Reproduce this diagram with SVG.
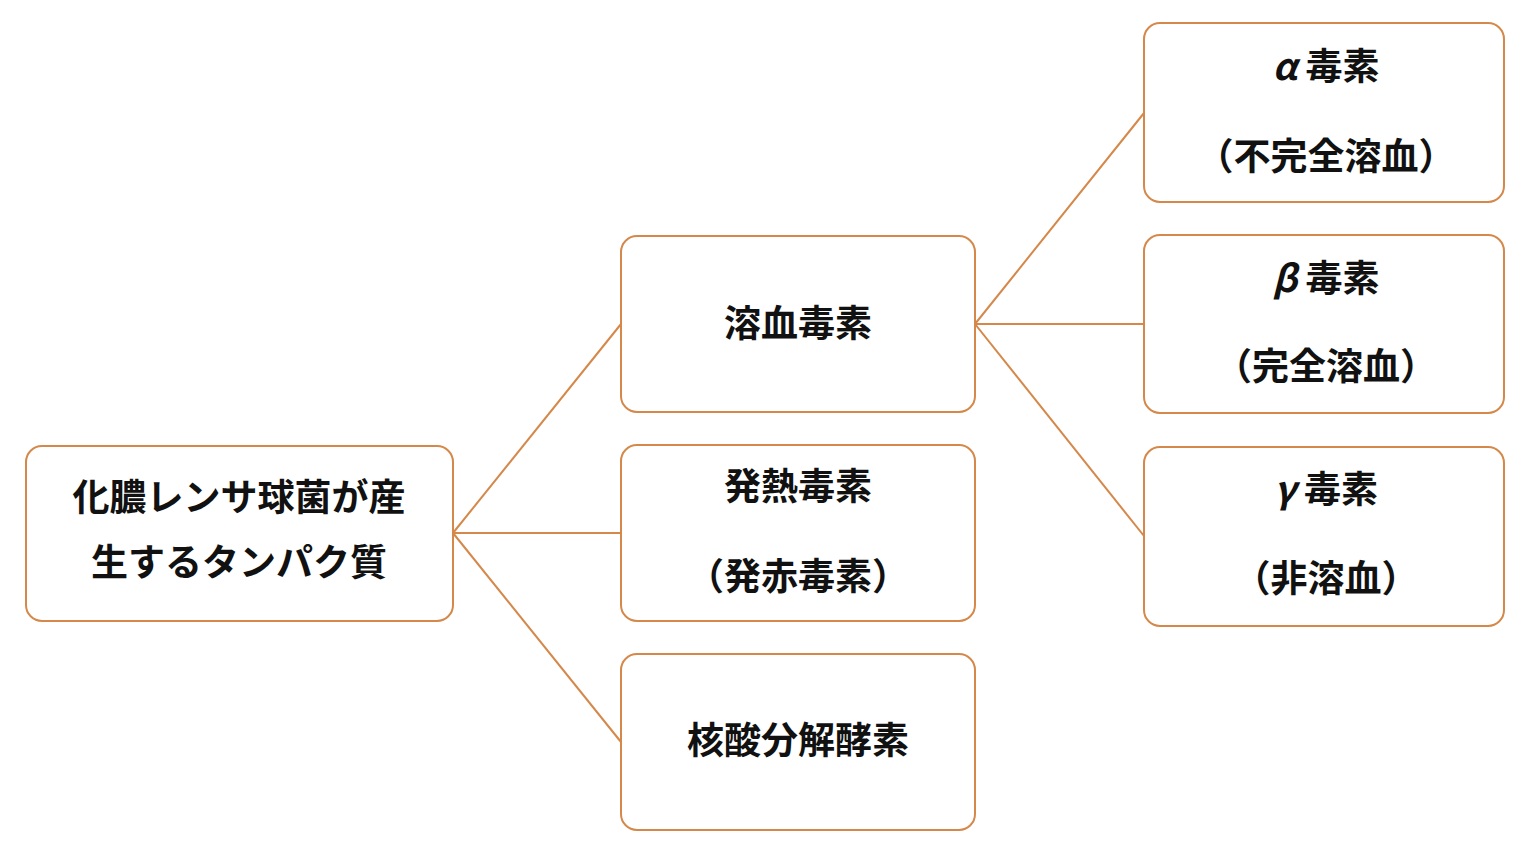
<svg xmlns="http://www.w3.org/2000/svg" width="1536" height="845" viewBox="0 0 1536 845">
<style>
.b{fill:#fff;stroke:#D4884A;stroke-width:2}
.c line{stroke:#D4884A;stroke-width:2}
text{font-family:"Noto Sans CJK JP","Noto Sans",sans-serif;font-weight:bold;font-size:37px;fill:#111;text-anchor:middle}
</style>
<rect width="1536" height="845" fill="#fff"/>
<g class="c">
<line x1="453" y1="533" x2="621" y2="324"/>
<line x1="453" y1="533" x2="621" y2="533"/>
<line x1="453" y1="533" x2="621" y2="742"/>
<line x1="975" y1="324" x2="1144" y2="113"/>
<line x1="975" y1="324" x2="1144" y2="324"/>
<line x1="975" y1="324" x2="1144" y2="536"/>
</g>
<g id="root"><rect class="b" x="26" y="446" width="427" height="175" rx="16"/>
<text x="239" y="511">化膿レンサ球菌が産</text><text x="239" y="576">生するタンパク質</text></g>
<g id="m1"><rect class="b" x="621" y="236" width="354" height="176" rx="16"/><text x="798" y="337">溶血毒素</text></g>
<g id="m2"><rect class="b" x="621" y="445" width="354" height="176" rx="16"/><text x="798" y="500">発熱毒素</text><text x="798" y="590">（発赤毒素）</text></g>
<g id="m3"><rect class="b" x="621" y="654" width="354" height="176" rx="16"/><text x="798" y="754">核酸分解酵素</text></g>
<g id="r1"><rect class="b" x="1144" y="23" width="360" height="179" rx="16"/><text x="1326" y="80"><tspan font-style="italic">α</tspan> 毒素</text><text x="1326" y="170">（不完全溶血）</text></g>
<g id="r2"><rect class="b" x="1144" y="235" width="360" height="178" rx="16"/><text x="1326" y="292"><tspan font-style="italic">β</tspan> 毒素</text><text x="1326" y="380">（完全溶血）</text></g>
<g id="r3"><rect class="b" x="1144" y="447" width="360" height="179" rx="16"/><text x="1326" y="503"><tspan font-style="italic">γ</tspan> 毒素</text><text x="1326" y="592">（非溶血）</text></g>
</svg>
